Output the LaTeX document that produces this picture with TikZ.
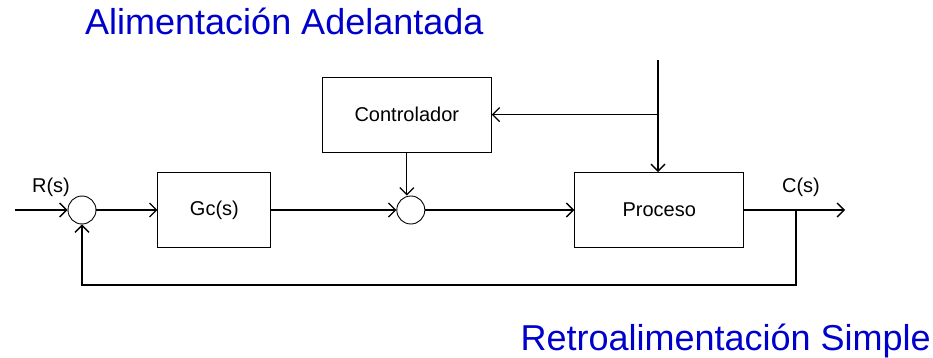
\documentclass[tikz,border=0pt]{standalone}
\usepackage{fontspec}
\setmainfont{Liberation Sans}
\usepackage{xcolor}
\usetikzlibrary{positioning,arrows.meta}
\definecolor{titleblue}{RGB}{0,0,204}

\begin{document}
\begin{tikzpicture}[x=1pt,y=-1pt,
    block/.style={draw,line width=0.9pt,minimum width=169pt,minimum height=75pt,font=\fontsize{20}{24}\selectfont},
    sumjct/.style={draw,circle,line width=0.9pt,minimum size=28pt,inner sep=0pt},
    sig/.style={line width=1.3pt},
    lbl/.style={font=\fontsize{20}{24}\selectfont,inner sep=0pt},
    caption/.style={text=titleblue,font=\fontsize{36}{42}\selectfont,inner sep=0pt},
    >={Straight Barb[length=7pt,width=14pt]}]
    \useasboundingbox (0,0) rectangle (933,358);

        \node[sumjct] (S1) at (82,210) {};
        \node[block,minimum width=113pt,right=61pt of S1] (Gc) {Gc(s)};
        \node[sumjct,right=125pt of Gc] (S2) {};
        \node[block,above=43pt of S2,xshift=-4pt] (Ctrl) {Controlador};
        \node[block,right=149pt of S2] (Proc) {Proceso};

        \coordinate (in) at (15,210);
        \coordinate (out) at (845,210);
        \coordinate (fb) at (796,210);
        \coordinate (top) at (658,60);
        \coordinate (tap) at (top |- Ctrl.east);

        \draw[sig,->] (in) -- (S1.west);
        \draw[sig,->] (S1.east) -- (Gc.west);
        \draw[sig,->] (Gc.east) -- (S2.west);
        \draw[sig,->] (Ctrl.south) -- (Ctrl.south |- S2.north);
        \draw[sig,->] (S2.east) -- (Proc.west);
        \draw[sig,->] (Proc.east) -- (out);

        % disturbance measured and fed forward
        \draw[sig,->] (top) -- (top |- Proc.north);
        \draw[sig,->] (tap) -- (Ctrl.east);

        % feedback loop
        \draw[sig,->] (fb) -- ++(0,75) -| (S1.south);

        \node[lbl,anchor=base] (R) at (51,193) {R(s)};
        \node[lbl,anchor=base] (C) at (801,193) {C(s)};

        \node[caption,anchor=base west] (ffwd) at (85,35) {Alimentación Adelantada};
        \node[caption,anchor=base east] (fbck) at (931,350) {Retroalimentación Simple};

\end{tikzpicture}
\end{document}
